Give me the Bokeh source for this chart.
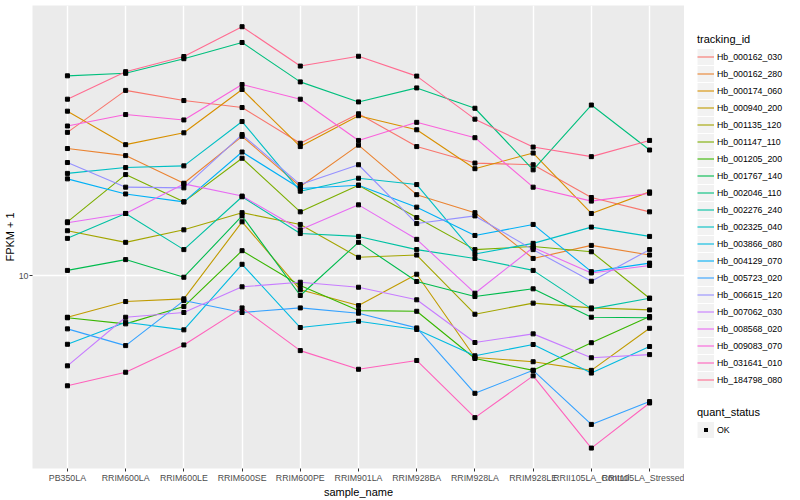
from bokeh.plotting import figure
from bokeh.layouts import row
from bokeh.models import (Range1d, FixedTicker, Legend, LegendItem,
                          PrintfTickFormatter, AllLabels)
from bokeh.embed import file_html
from bokeh.resources import INLINE

FONT = "Liberation Sans"

samples = ["PB350LA", "RRIM600LA", "RRIM600LE", "RRIM600SE", "RRIM600PE",
           "RRIM901LA", "RRIM928BA", "RRIM928LA", "RRIM928LE",
           "RRII105LA_Control", "RRII105LA_Stressed"]

tracking_ids = ["Hb_000162_030", "Hb_000162_280", "Hb_000174_060", "Hb_000940_200",
                "Hb_001135_120", "Hb_001147_110", "Hb_001205_200", "Hb_001767_140",
                "Hb_002046_110", "Hb_002276_240", "Hb_002325_040", "Hb_003866_080",
                "Hb_004129_070", "Hb_005723_020", "Hb_006615_120", "Hb_007062_030",
                "Hb_008568_020", "Hb_009083_070", "Hb_031641_010", "Hb_184798_080"]

# FPKM + 1, one list per tracking_id, in sample order
hb_000162_030 = [30.0, 41.4, 38.3, 36.3, 27.6, 34.6, 26.9, 23.7, 23.4, 18.2, 16.3]
hb_000162_280 = [26.5, 25.1, 20.3, 29.1, 19.8, 27.2, 18.6, 16.2, 11.4, 12.6, 11.7]
hb_000174_060 = [35.3, 27.3, 29.9, 41.7, 26.9, 34.1, 30.6, 22.7, 25.6, 16.1, 19.0]
hb_000940_200 = [7.26, 8.19, 8.36, 15.1, 8.96, 7.94, 10.1, 5.33, 5.16, 4.83, 6.67]
hb_001135_120 = [14.1, 12.9, 14.2, 16.2, 14.8, 11.5, 11.7, 7.43, 8.09, 7.80, 7.68]
hb_001147_110 = [15.1, 21.7, 17.6, 24.6, 16.3, 20.0, 15.6, 12.2, 12.5, 12.0, 8.40]
hb_001205_200 = [7.23, 6.90, 7.88, 12.1, 9.26, 7.64, 7.60, 5.29, 4.83, 5.97, 7.30]
hb_001767_140 = [10.4, 11.3, 9.87, 15.8, 8.58, 12.9, 9.55, 8.51, 9.03, 7.26, 7.23]
hb_002046_110 = [46.3, 47.2, 52.8, 59.8, 44.2, 37.9, 42.2, 36.1, 22.5, 37.0, 26.2]
hb_002276_240 = [13.3, 16.1, 12.2, 18.3, 13.8, 13.5, 12.2, 11.4, 10.4, 7.74, 8.40]
hb_002325_040 = [21.9, 22.9, 23.2, 32.6, 19.1, 21.1, 20.1, 11.8, 12.8, 14.5, 13.5]
hb_003866_080 = [5.90, 6.99, 6.59, 10.9, 6.71, 7.04, 6.61, 5.40, 5.89, 4.73, 5.80]
hb_004129_070 = [21.0, 18.7, 17.6, 25.8, 19.5, 20.0, 16.9, 13.6, 14.8, 10.3, 11.0]
hb_005723_020 = [6.64, 5.84, 8.25, 7.53, 7.80, 7.49, 6.69, 4.05, 4.83, 3.19, 3.80]
hb_006615_120 = [23.8, 19.7, 19.6, 29.5, 20.1, 23.4, 14.9, 15.8, 12.2, 9.57, 12.2]
hb_007062_030 = [5.00, 7.26, 7.53, 9.17, 9.50, 9.14, 8.30, 5.98, 6.39, 5.32, 5.45]
hb_008568_020 = [15.0, 16.1, 20.2, 18.4, 14.2, 17.2, 13.2, 8.73, 12.4, 10.2, 10.8]
hb_009083_070 = [31.5, 34.4, 33.0, 43.3, 38.7, 28.2, 32.4, 28.8, 19.7, 17.7, 18.8]
hb_031641_010 = [4.29, 4.76, 5.87, 7.80, 5.62, 4.87, 5.21, 3.36, 4.63, 2.66, 3.76]
hb_184798_080 = [38.7, 47.8, 53.7, 67.5, 49.9, 53.8, 46.2, 33.2, 26.8, 24.9, 28.2]

series = [hb_000162_030, hb_000162_280, hb_000174_060, hb_000940_200,
          hb_001135_120, hb_001147_110, hb_001205_200, hb_001767_140,
          hb_002046_110, hb_002276_240, hb_002325_040, hb_003866_080,
          hb_004129_070, hb_005723_020, hb_006615_120, hb_007062_030,
          hb_008568_020, hb_009083_070, hb_031641_010, hb_184798_080]

quant_status = ["OK"]

colors = ["#F8766D", "#EA8331", "#D89000", "#C09B00", "#A3A500", "#7CAE00",
          "#39B600", "#00BB4E", "#00BF7D", "#00C1A3", "#00BFC4", "#00BAE0",
          "#00B0F6", "#35A2FF", "#9590FF", "#C77CFF", "#E76BF3", "#FA62DB",
          "#FF62BC", "#FF6C91"]

xpos = list(range(1, len(samples) + 1))

H = 500

p = figure(width=684, height=H,
           x_range=Range1d(0.4, len(samples) + 0.6),
           y_range=Range1d(2.274, 79.43), y_axis_type="log",
           output_backend="svg", toolbar_location=None,
           min_border_left=0, min_border_right=0,
           min_border_top=5, min_border_bottom=0)

p.background_fill_color = "#EBEBEB"
p.border_fill_color = "white"
p.outline_line_color = None

p.xaxis.ticker = FixedTicker(ticks=xpos)
p.xaxis.major_label_overrides = {x: s for x, s in zip(xpos, samples)}
p.xaxis.major_label_policy = AllLabels()
p.yaxis.ticker = FixedTicker(ticks=[10])
p.yaxis.formatter = PrintfTickFormatter(format="%d")
p.xaxis.axis_label = "sample_name"
p.yaxis.axis_label = "FPKM + 1"
for ax in (p.xaxis, p.yaxis):
    ax.axis_line_color = None
    ax.minor_tick_line_color = None
    ax.major_tick_in = 0
    ax.major_tick_out = 3
    ax.major_tick_line_color = "#333333"
    ax.major_tick_line_width = 1
    ax.major_label_text_font = FONT
    ax.major_label_text_font_size = "8.8px"
    ax.major_label_text_color = "#4D4D4D"
    ax.major_label_standoff = 1
    ax.axis_label_text_font = FONT
    ax.axis_label_text_font_size = "11px"
    ax.axis_label_text_font_style = "normal"
    ax.axis_label_text_color = "black"
    ax.axis_label_standoff = 0

p.xgrid.ticker = FixedTicker(ticks=xpos)
p.ygrid.ticker = FixedTicker(ticks=[10])
p.grid.grid_line_color = "white"
p.grid.grid_line_width = 1.4
p.grid.minor_grid_line_color = None

for vals, col in zip(series, colors):
    p.line(x=xpos, y=vals, line_color=col, line_width=1.1)

px = [x for vals in series for x in xpos]
py = [v for vals in series for v in vals]
p.scatter(x=px, y=py, marker="square", size=4, color="black")

# legend panel (separate figure; its renderers sit outside its visible range
# and only provide the legend swatches)
pl = figure(width=100, height=H, x_range=Range1d(0, 1), y_range=Range1d(0, 1),
            x_axis_type=None, y_axis_type=None,
            output_backend="svg", toolbar_location=None,
            min_border_left=0, min_border_right=0,
            min_border_top=0, min_border_bottom=0)
pl.outline_line_color = None
pl.background_fill_color = "white"
pl.border_fill_color = "white"
pl.grid.visible = False

off = dict(x=[-5, -4], y=[-5, -4])
key_bg = pl.line(line_color="#F2F2F2", line_width=16, **off)
key_pt = pl.scatter(marker="square", size=4, fill_color="black",
                    line_color="#F2F2F2", line_width=2.8, **off)
swatches = [pl.line(line_color=col, line_width=1.1, **off) for col in colors]

common = dict(orientation="vertical", glyph_width=17, glyph_height=17,
              label_height=17, label_width=20, spacing=0, padding=0, margin=0,
              label_standoff=3, title_standoff=3, border_line_color=None,
              background_fill_alpha=0,
              label_text_font=FONT, label_text_font_size="8.8px",
              label_text_color="black",
              title_text_font=FONT, title_text_font_size="11px",
              title_text_font_style="normal", title_text_color="black")

items1 = [LegendItem(label=t, renderers=[key_bg, r])
          for t, r in zip(tracking_ids, swatches)]
leg1 = Legend(items=items1, title="tracking_id", location=(13, 80), **common)
pl.add_layout(leg1)

items2 = [LegendItem(label=quant_status[0], renderers=[key_bg, key_pt])]
leg2 = Legend(items=items2, title="quant_status", location=(13, 30), **common)
pl.add_layout(leg2)

layout = row(p, pl)
open("out.html", "w").write(file_html(layout, INLINE))
